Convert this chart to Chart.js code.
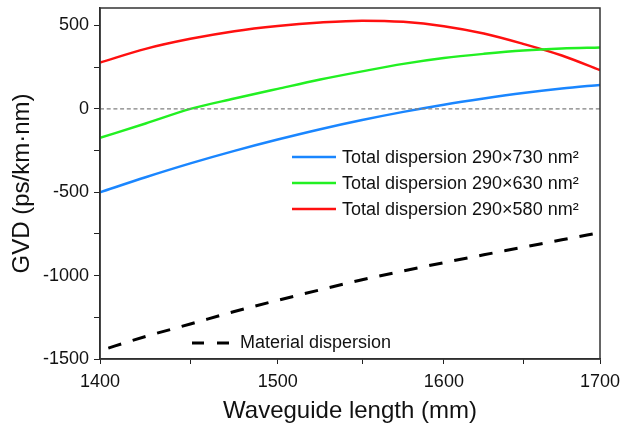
<!DOCTYPE html>
<html>
<head>
<meta charset="utf-8">
<script src="https://cdn.jsdelivr.net/npm/chart.js@4.4.1/dist/chart.umd.min.js"></script>
<style>
  html, body { margin: 0; padding: 0; background: #fff; }
  #wrap { width: 623px; height: 427px; }
</style>
</head>
<body>
<div id="wrap"><canvas id="gvd" width="623" height="427"></canvas></div>
<script>
'use strict';

/* ── DATA ── */
const wavelengths = [1400, 1425, 1450, 1475, 1500, 1525, 1550, 1575, 1600, 1625, 1650, 1675, 1700];

const gvd730 = [-500, -410, -327, -252, -184, -122, -67, -18, 25, 62, 95, 122, 144];
const gvd630 = [-174, -88, 0, 62, 120, 176, 225, 270, 305, 330, 350, 362, 368];
const gvd580 = [278, 360, 420, 466, 497, 518, 529, 522, 496, 452, 390, 320, 232];
const gvdMaterial = [-1450, -1365, -1290, -1215, -1148, -1085, -1025, -972, -922, -875, -830, -785, -742];

const zeroX = [1400, 1700];
const zeroY = [0, 0];

const seriesLabels = [
  'Total dispersion 290\u00d7730 nm\u00b2',
  'Total dispersion 290\u00d7630 nm\u00b2',
  'Total dispersion 290\u00d7580 nm\u00b2'
];
const materialLabel = 'Material dispersion';

const xTicks = [1400, 1450, 1500, 1550, 1600, 1650, 1700];
const xLabels = [1400, 1500, 1600, 1700];
const yTicks = [-1500, -1250, -1000, -750, -500, -250, 0, 250, 500];
const yLabels = [-1500, -1000, -500, 0, 500];

const colors = ['#1a86ff', '#22f022', '#ff1010'];
const FONT = '"Liberation Sans", Arial, sans-serif';

function pts(xs, ys) {
  return xs.map((x, i) => ({ x: x, y: ys[i] }));
}

/* ── FRAME + LEGENDS ── */
const frameAndLegend = {
  id: 'frameAndLegend',
  afterDatasetsDraw(chart) {
    const { ctx, chartArea: a } = chart;
    ctx.save();

    // box round the plot
    ctx.strokeStyle = '#333';
    ctx.lineWidth = 1.5;
    ctx.strokeRect(a.left, a.top, a.right - a.left, a.bottom - a.top);

    // legend of the three totals
    ctx.font = '18px ' + FONT;
    ctx.textBaseline = 'middle';
    ctx.textAlign = 'left';
    const rows = [157, 183, 209];
    seriesLabels.forEach((lab, i) => {
      ctx.strokeStyle = colors[i];
      ctx.lineWidth = 2.5;
      ctx.beginPath();
      ctx.moveTo(292, rows[i]);
      ctx.lineTo(336, rows[i]);
      ctx.stroke();
      ctx.fillStyle = '#111';
      ctx.fillText(lab, 342, rows[i] + 1);
    });

    // legend of the material line
    ctx.strokeStyle = '#000';
    ctx.lineWidth = 3;
    ctx.setLineDash([12, 13]);
    ctx.beginPath();
    ctx.moveTo(192, 343);
    ctx.lineTo(230, 343);
    ctx.stroke();
    ctx.setLineDash([]);
    ctx.fillStyle = '#111';
    ctx.fillText(materialLabel, 240, 343);

    ctx.restore();
  }
};

/* ── CHART ── */
new Chart(document.getElementById('gvd'), {
  type: 'line',
  data: {
    datasets: [
      {
        label: 'zero',
        data: pts(zeroX, zeroY),
        borderColor: '#808080',
        borderWidth: 1.2,
        borderDash: [4, 2.7],
        pointRadius: 0
      },
      {
        label: materialLabel,
        data: pts(wavelengths, gvdMaterial),
        borderColor: '#000',
        borderWidth: 3,
        borderDash: [13.5, 12],
        borderDashOffset: 16.8,
        pointRadius: 0,
        cubicInterpolationMode: 'monotone'
      },
      {
        label: seriesLabels[0],
        data: pts(wavelengths, gvd730),
        borderColor: colors[0],
        borderWidth: 2.5,
        pointRadius: 0,
        cubicInterpolationMode: 'monotone'
      },
      {
        label: seriesLabels[1],
        data: pts(wavelengths, gvd630),
        borderColor: colors[1],
        borderWidth: 2.5,
        pointRadius: 0,
        cubicInterpolationMode: 'monotone'
      },
      {
        label: seriesLabels[2],
        data: pts(wavelengths, gvd580),
        borderColor: colors[2],
        borderWidth: 2.5,
        pointRadius: 0,
        cubicInterpolationMode: 'monotone'
      }
    ]
  },
  options: {
    responsive: false,
    animation: false,
    devicePixelRatio: 1,
    layout: { padding: { left: 0, right: 23, top: 8, bottom: 0 } },
    plugins: {
      legend: { display: false },
      tooltip: { enabled: false }
    },
    scales: {
      x: {
        type: 'logarithmic',
        position: 'bottom',
        min: 1400,
        max: 1700,
        afterBuildTicks: s => { s.ticks = xTicks.map(v => ({ value: v })); },
        afterFit: s => {
          s.height = 68;
          s.paddingLeft = 0;
          s.paddingRight = 0;
        },
        ticks: {
          autoSkip: false,
          maxRotation: 0,
          padding: 7,
          color: '#111',
          font: { family: FONT, size: 18 },
          callback: v => (xLabels.includes(v) ? String(v) : '')
        },
        grid: { drawOnChartArea: false, drawTicks: true, tickLength: 5, tickColor: '#222' },
        border: { display: true, color: '#222', width: 1.5 },
        title: {
          display: true,
          text: 'Waveguide length (mm)',
          color: '#111',
          font: { family: FONT, size: 24 },
          padding: { top: 0, bottom: 1 }
        }
      },
      y: {
        type: 'linear',
        min: -1500,
        max: 605,
        afterBuildTicks: s => { s.ticks = yTicks.map(v => ({ value: v })); },
        afterFit: s => {
          s.width = 100;
          s.paddingTop = 0;
          s.paddingBottom = 0;
        },
        ticks: {
          padding: 5,
          color: '#111',
          font: { family: FONT, size: 18 },
          callback: v => (yLabels.includes(v) ? String(v) : '')
        },
        grid: { drawOnChartArea: false, drawTicks: true, tickLength: 6, tickColor: '#222' },
        border: { display: true, color: '#222', width: 1.5 },
        title: {
          display: true,
          text: 'GVD (ps/km\u00b7nm)',
          color: '#111',
          font: { family: FONT, size: 24 },
          padding: { top: 8, bottom: 0 }
        }
      }
    }
  },
  plugins: [frameAndLegend]
});
</script>
</body>
</html>
